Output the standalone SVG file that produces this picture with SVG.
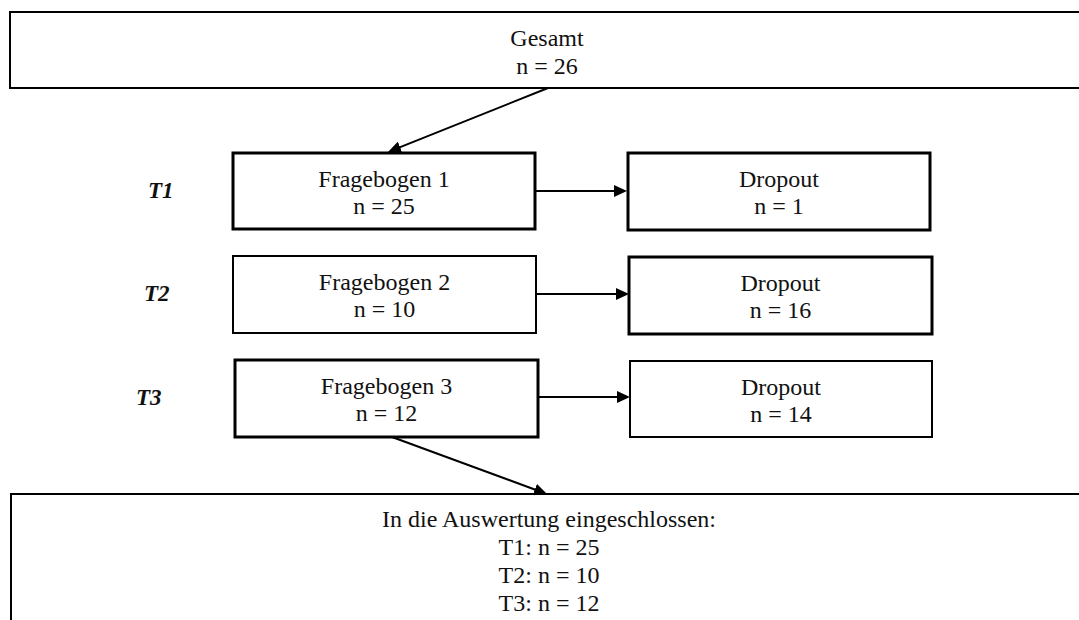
<svg xmlns="http://www.w3.org/2000/svg" width="1079" height="620" viewBox="0 0 1079 620">
  <style>
    .box { fill: #ffffff; stroke: #000000; }
    .thin { stroke-width: 2; }
    .thick { stroke-width: 3; }
    .lbl { font-family: "Liberation Serif", "Times New Roman", serif; font-size: 24px; fill: #111111; text-anchor: middle; }
    .time { font-family: "Liberation Serif", "Times New Roman", serif; font-size: 23px; font-weight: bold; font-style: italic; fill: #111111; }
    .link { stroke: #000000; stroke-width: 2; fill: none; marker-end: url(#arrow); }
  </style>
  <defs>
    <marker id="arrow" markerUnits="userSpaceOnUse" markerWidth="14" markerHeight="12" refX="10" refY="6" orient="auto">
      <path d="M0,0 L13,6 L0,12 Z" fill="#000000"/>
    </marker>
  </defs>
  <rect width="1079" height="620" fill="#ffffff"/>

  <!-- time point labels -->
  <g id="time-labels">
    <text class="time" x="148" y="198">T1</text>
    <text class="time" x="144" y="301">T2</text>
    <text class="time" x="136" y="405">T3</text>
  </g>

  <!-- total sample -->
  <g id="gesamt">
    <rect class="box thin" x="10" y="12" width="1080" height="76"/>
    <text class="lbl" x="547" y="46">Gesamt</text>
    <text class="lbl" x="547" y="74">n = 26</text>
  </g>

  <!-- questionnaires -->
  <g id="fragebogen1">
    <rect class="box thick" x="233" y="153" width="302" height="76"/>
    <text class="lbl" x="384" y="187">Fragebogen 1</text>
    <text class="lbl" x="384" y="214">n = 25</text>
  </g>
  <g id="fragebogen2">
    <rect class="box thin" x="233" y="256" width="303" height="77"/>
    <text class="lbl" x="384.5" y="290">Fragebogen 2</text>
    <text class="lbl" x="384.5" y="317">n = 10</text>
  </g>
  <g id="fragebogen3">
    <rect class="box thick" x="235" y="360" width="303" height="77"/>
    <text class="lbl" x="386.5" y="394">Fragebogen 3</text>
    <text class="lbl" x="386.5" y="421">n = 12</text>
  </g>

  <!-- dropouts -->
  <g id="dropout1">
    <rect class="box thick" x="628" y="153" width="302" height="77"/>
    <text class="lbl" x="779" y="187">Dropout</text>
    <text class="lbl" x="779" y="214">n = 1</text>
  </g>
  <g id="dropout2">
    <rect class="box thick" x="629" y="257" width="303" height="77"/>
    <text class="lbl" x="780.5" y="291">Dropout</text>
    <text class="lbl" x="780.5" y="318">n = 16</text>
  </g>
  <g id="dropout3">
    <rect class="box thin" x="630" y="361" width="302" height="76"/>
    <text class="lbl" x="781" y="395">Dropout</text>
    <text class="lbl" x="781" y="422">n = 14</text>
  </g>

  <!-- analysed sample -->
  <g id="auswertung">
    <rect class="box thin" x="11" y="494" width="1080" height="140"/>
    <text class="lbl" x="549" y="527">In die Auswertung eingeschlossen:</text>
    <text class="lbl" x="549" y="555">T1: n = 25</text>
    <text class="lbl" x="549" y="583">T2: n = 10</text>
    <text class="lbl" x="549" y="611">T3: n = 12</text>
  </g>

  <!-- connectors -->
  <g id="connectors">
    <line class="link" x1="548" y1="88" x2="390.8" y2="150.9"/>
    <line class="link" x1="535" y1="191" x2="624" y2="191"/>
    <line class="link" x1="537" y1="294" x2="626" y2="294"/>
    <line class="link" x1="539" y1="397" x2="627" y2="397"/>
    <line class="link" x1="392" y1="437" x2="544.2" y2="493"/>
  </g>
</svg>
